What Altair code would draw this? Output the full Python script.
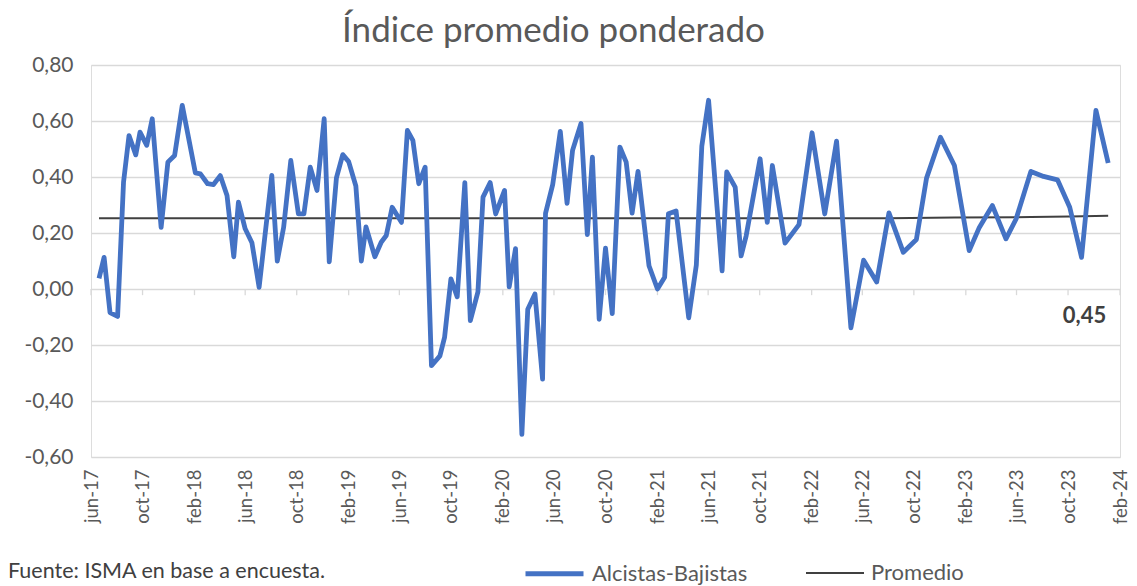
import altair as alt
import pandas as pd

FONT = "Lato"

# --- data ---
fechas = [
    "2017-06-20", "2017-07-02", "2017-07-16", "2017-08-03", "2017-08-17", "2017-08-30",
    "2017-09-15", "2017-09-25", "2017-10-11", "2017-10-24", "2017-11-14", "2017-11-30",
    "2017-12-16", "2018-01-03", "2018-02-03", "2018-02-15", "2018-03-04", "2018-03-18",
    "2018-04-03", "2018-04-19", "2018-05-05", "2018-05-16", "2018-06-01", "2018-06-17",
    "2018-07-04", "2018-08-03", "2018-08-16", "2018-08-31", "2018-09-17", "2018-10-05",
    "2018-10-18", "2018-11-02", "2018-11-18", "2018-12-05", "2018-12-17", "2019-01-03",
    "2019-01-18", "2019-02-01", "2019-02-18", "2019-03-03", "2019-03-14", "2019-04-04",
    "2019-04-19", "2019-05-01", "2019-05-15", "2019-06-06", "2019-06-20", "2019-07-03",
    "2019-07-17", "2019-08-01", "2019-08-16", "2019-09-05", "2019-09-16", "2019-10-01",
    "2019-10-16", "2019-11-03", "2019-11-16", "2019-12-04", "2019-12-16", "2020-01-02",
    "2020-01-15", "2020-02-05", "2020-02-16", "2020-03-02", "2020-03-17", "2020-03-31",
    "2020-04-17", "2020-05-05", "2020-05-12", "2020-05-29", "2020-06-16", "2020-07-02",
    "2020-07-15", "2020-08-04", "2020-08-19", "2020-08-31", "2020-09-16", "2020-10-01",
    "2020-10-17", "2020-11-04", "2020-11-19", "2020-12-03", "2020-12-17", "2021-01-12",
    "2021-02-01", "2021-02-18", "2021-02-27", "2021-03-17", "2021-04-16", "2021-05-04",
    "2021-05-17", "2021-06-02", "2021-07-04", "2021-07-15", "2021-08-04", "2021-08-18",
    "2021-08-30", "2021-10-02", "2021-10-19", "2021-10-31", "2021-11-30", "2022-01-02",
    "2022-02-02", "2022-03-04", "2022-04-01", "2022-05-05", "2022-06-04", "2022-07-05",
    "2022-08-03", "2022-09-06", "2022-10-07", "2022-10-31", "2022-12-03", "2023-01-05",
    "2023-02-09", "2023-03-05", "2023-04-05", "2023-05-07", "2023-05-31", "2023-07-05",
    "2023-08-04", "2023-09-06", "2023-10-05", "2023-11-02", "2023-12-06", "2024-01-04",
]
alcistas_bajistas = [
    0.038, 0.113, -0.084, -0.098, 0.381, 0.548,
    0.479, 0.560, 0.513, 0.608, 0.220, 0.453,
    0.477, 0.656, 0.415, 0.411, 0.376, 0.373,
    0.405, 0.334, 0.115, 0.310, 0.215, 0.165,
    0.006, 0.406, 0.100, 0.220, 0.459, 0.268,
    0.268, 0.435, 0.352, 0.608, 0.097, 0.397,
    0.480, 0.455, 0.368, 0.100, 0.222, 0.115,
    0.167, 0.191, 0.292, 0.238, 0.566, 0.531,
    0.376, 0.435, -0.274, -0.239, -0.173, 0.036,
    -0.028, 0.380, -0.113, -0.010, 0.328, 0.380,
    0.268, 0.352, 0.008, 0.144, -0.519, -0.072,
    -0.018, -0.322, 0.270, 0.373, 0.563, 0.306,
    0.495, 0.591, 0.194, 0.471, -0.108, 0.146,
    -0.088, 0.507, 0.453, 0.271, 0.420, 0.083,
    0.000, 0.042, 0.269, 0.279, -0.103, 0.085,
    0.510, 0.674, 0.065, 0.418, 0.364, 0.118,
    0.190, 0.465, 0.238, 0.441, 0.164, 0.230,
    0.558, 0.268, 0.528, -0.139, 0.103, 0.025,
    0.272, 0.131, 0.177, 0.396, 0.542, 0.441,
    0.137, 0.220, 0.298, 0.179, 0.250, 0.420,
    0.402, 0.390, 0.292, 0.113, 0.638, 0.450,
]
promedio_fechas = ["2017-06-20", "2022-08-03", "2023-01-05", "2023-07-05", "2023-10-05", "2024-01-04"]
promedio_valores = [0.253, 0.253, 0.255, 0.257, 0.259, 0.262]

tick_fechas = [
    "2017-06-01", "2017-10-01", "2018-02-01", "2018-06-01", "2018-10-01", "2019-02-01",
    "2019-06-01", "2019-10-01", "2020-02-01", "2020-06-01", "2020-10-01", "2021-02-01",
    "2021-06-01", "2021-10-01", "2022-02-01", "2022-06-01", "2022-10-01", "2023-02-01",
    "2023-06-01", "2023-10-01", "2024-02-01",
]
y_ticks = [-0.6, -0.4, -0.2, 0.0, 0.2, 0.4, 0.6, 0.8]
series = ["Alcistas-Bajistas", "Promedio"]
colores = ["#4472C4", "#404040"]
grosores = [4.8, 2.0]

titulo = "Índice promedio ponderado"
fuente = "Fuente: ISMA en base a encuesta."

# --- tables ---
def ms(s):
    return int(pd.Timestamp(s, tz="UTC").value // 10**6)

df_a = pd.DataFrame({"fecha": [ms(f) for f in fechas], "valor": alcistas_bajistas, "serie": series[0]})
df_p = pd.DataFrame({"fecha": [ms(f) for f in promedio_fechas], "valor": promedio_valores, "serie": series[1]})
df_lines = pd.concat([df_p, df_a], ignore_index=True)
df_lines["orden"] = df_lines["serie"].map({series[0]: 1, series[1]: 0})
df_ticks = pd.DataFrame({"fecha": [ms(f) for f in tick_fechas]})
ultimo = alcistas_bajistas[-1]
df_label = pd.DataFrame({"fecha": [ms(fechas[-1])], "texto": [f"{ultimo:.2f}".replace(".", ",")]})

tick_ms = [ms(f) for f in tick_fechas]

x_scale = alt.Scale(type="utc", domain=[tick_ms[0], tick_ms[-1]])
y_scale = alt.Scale(domain=[-0.6, 0.8], nice=False, zero=False)

month_expr = "['ene','feb','mar','abr','may','jun','jul','ago','sep','oct','nov','dic'][utcmonth(datum.value)] + '-' + utcFormat(datum.value, '%y')"
y_expr = "replace(replace(format(datum.value, '.2f'), '.', ','), '\u2212', '-')"

x_enc = alt.X(
    "fecha:T",
    scale=x_scale,
    axis=alt.Axis(
        values=tick_ms, labelExpr=month_expr, labelAngle=270, grid=False, domain=False,
        ticks=False, labelPadding=12, labelFontSize=18.5, labelColor="#595959", labelFont=FONT,
        title=None,
    ),
)
y_enc = alt.Y(
    "valor:Q",
    scale=y_scale,
    axis=alt.Axis(
        values=y_ticks, labelExpr=y_expr, grid=True, gridColor="#D9D9D9", gridWidth=1.3,
        domain=False, ticks=False, labelPadding=18, labelFontSize=21, labelColor="#595959",
        labelFont=FONT, title=None,
    ),
)

legend_kw = dict(
    title=None, orient="none", legendX=432, legendY=477, direction="horizontal",
    symbolType="stroke", symbolSize=3364, labelFontSize=22,
    labelColor="#595959", labelFont=FONT, labelOffset=6, columnPadding=54,
)

lines = alt.Chart(df_lines).mark_line(strokeJoin="round", strokeCap="butt").encode(
    x=x_enc,
    y=y_enc,
    color=alt.Color(
        "serie:N",
        scale=alt.Scale(domain=series, range=colores),
        legend=alt.Legend(**legend_kw),
    ),
    strokeWidth=alt.StrokeWidth(
        "serie:N",
        scale=alt.Scale(domain=series, range=grosores),
        legend=alt.Legend(**legend_kw),
    ),
    detail="serie:N",
    order="orden:Q",
)

ticks = alt.Chart(df_ticks).mark_rule(color="#D9D9D9", strokeWidth=1.3).encode(
    x=alt.X("fecha:T", scale=x_scale),
    y=alt.datum(0),
    y2=alt.datum(-0.022),
)

label = alt.Chart(df_label).mark_text(
    align="right", baseline="middle", dx=-2, fontSize=22, fontWeight="bold",
    color="#404040", font=FONT,
).encode(
    x=alt.X("fecha:T", scale=x_scale),
    y=alt.value(251),
    text="texto:N",
)

source = alt.Chart(df_label).mark_text(
    align="left", baseline="middle", fontSize=21.5, color="#404040", font=FONT,
).encode(
    x=alt.value(-83),
    y=alt.value(507),
    text=alt.value(fuente),
)

chart = alt.layer(ticks, lines, label, source).properties(
    width=1029,
    height=392,
    padding={"left": 83, "top": 57, "right": 9, "bottom": 130},
    autosize=alt.AutoSizeParams(type="none"),
    title=alt.TitleParams(
        titulo, anchor="middle", fontSize=35, font=FONT, fontWeight="normal",
        color="#595959", dx=-52, offset=5,
    ),
).configure_view(stroke=None).configure(background="white")

chart.save("out.html", embed_options={"renderer": "svg", "actions": False})
